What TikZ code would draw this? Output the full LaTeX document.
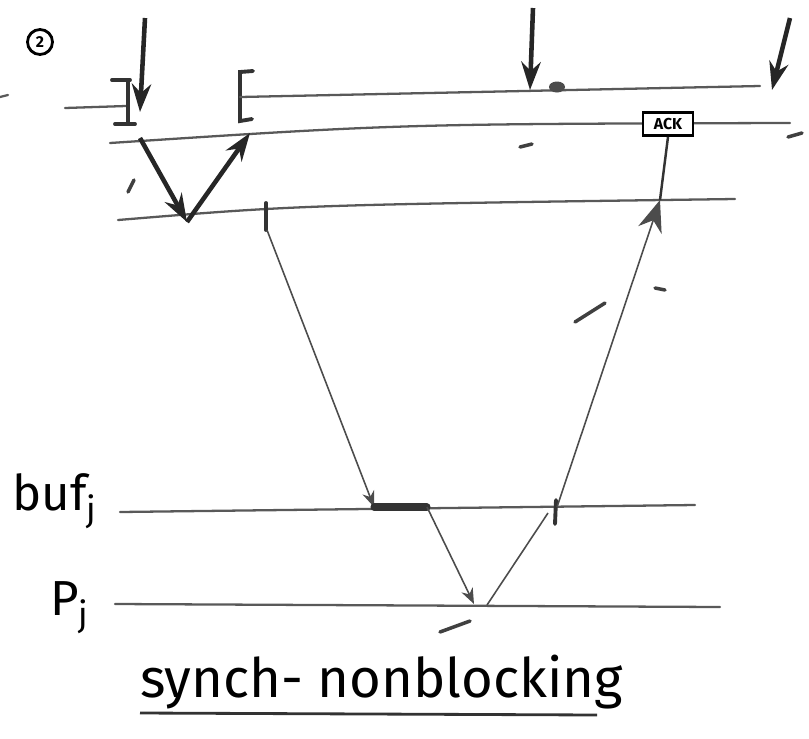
\documentclass[tikz,border=0pt]{standalone}
\usepackage{fontspec}
\setmainfont{Fira Sans}
\usepackage{tikz}
\usetikzlibrary{arrows, arrows.meta, positioning, calc}

\begin{document}
\begin{tikzpicture}[
    x=0.2mm, y=-0.2mm,
    timeline/.style={draw=gray!70!black, line width=1.3pt, line cap=round},
    bigarrow/.style={-{Stealth[length=16pt, width=11pt]}, line width=2.6pt, color=black!85},
    msg/.style={-{Stealth[length=9pt, width=7pt]}, line width=0.9pt, color=black!70},
    ackmsg/.style={-{Stealth[length=18pt, width=14pt]}, line width=0.9pt, color=black!70},
    plain/.style={line width=0.9pt, color=black!70},
    tick/.style={line width=2.2pt, color=black!80, line cap=round},
    smudge/.style={line width=2pt, color=black!75, line cap=round},
    lanelabel/.style={font=\fontsize{28}{30}\selectfont, inner sep=0pt, anchor=base west},
    ackbox/.style={rectangle, draw, line width=1.6pt, minimum width=10mm, minimum height=4.6mm, inner sep=1pt, font=\small\bfseries, fill=white}
]
\useasboundingbox (0,0) rectangle (809,738);

% Case number
\node[circle, draw, line width=1.6pt, inner sep=0pt, minimum size=5mm, font=\small\bfseries] (casenum) at (40,42) {2};

% Top timeline (sender)
\draw[timeline] (0,97) -- (8,95);
\draw[timeline] (65,108) -- (126,106);
\draw[tick] (112,80) -- (130,80) (128,80) -- (128,124) (115,124) -- (135,124);
\draw[tick] (253,71) -- (240,72) -- (240,121) -- (252,119);
\draw[timeline] (240,97) -- (760,86);

% Second and third timelines
\draw[timeline] (110,143) .. controls (400,124) .. (790,123);
\draw[timeline] (118,220) .. controls (300,205) .. (735,199);

% Receive buffer and receiver
\node[lanelabel] (buflabel) at (12,510) {buf\textsubscript{j}};
\node[lanelabel] (plabel) at (50,615) {P\textsubscript{j}};
\draw[timeline] (120,512) -- (695,505);
\draw[timeline] (115,604) -- (720,607);

% Event points
\coordinate (callA) at (145,18);
\coordinate (sendA) at (140,112);
\coordinate (outA) at (140,138);
\coordinate (lowA) at (187,222);
\coordinate (backA) at (250,133);
\coordinate (leave) at (267,230);
\coordinate (arrive) at (374,507);
\coordinate (copyS) at (427,507);
\coordinate (recv) at (474,604);
\coordinate (replyS) at (487,605);
\coordinate (replyB) at (548,513);
\coordinate (ackS) at (557,507);
\coordinate (ackL) at (660,200);
\coordinate (callB) at (533,8);
\coordinate (waitB) at (530,90);
\coordinate (callC) at (790,18);
\coordinate (waitC) at (772,90);

% ACK marker
\node[ackbox] (ack) at (668,124) {ACK};

% Calls coming in from above
\draw[bigarrow] (callA) -- (sendA);
\draw[bigarrow] (callB) -- (waitB);
\draw[bigarrow] (callC) -- (waitC);
\fill[black!70] (557,87) ellipse (1.6mm and 1.1mm);

% Local send and return
\draw[bigarrow] (outA) -- (lowA);
\draw[bigarrow] (lowA) -- (backA);

% Message to buffer, copy to receiver
\draw[tick] (266,203) -- (266,230);
\draw[msg] (leave) -- (arrive);
\draw[line width=4pt, color=black!80, line cap=round] (arrive) -- (copyS);
\draw[msg] (copyS) -- (recv);

% Acknowledgement back
\draw[plain] (replyS) -- (replyB);
\draw[tick] (556,500) -- (555,524);
\draw[ackmsg] (ackS) -- (ackL);
\draw[line width=1.4pt, color=black!80] (ackL) -- (ack.south);

% Stray strokes
\draw[smudge] (575,322) -- (605,303);
\draw[smudge] (440,632) -- (470,621);
\draw[smudge] (520,147) -- (532,144);
\draw[smudge] (655,288) -- (665,290);
\draw[smudge] (788,137) -- (802,133);
\draw[smudge] (128,192) -- (134,180);

% Title
\node[lanelabel, font=\fontsize{31}{33}\selectfont] (title) at (140,697) {synch- nonblocking};
\coordinate (ulS) at (140,713);
\coordinate (ulE) at (597,715);
\draw[line width=1.6pt, color=black!80] (ulS) -- (ulE);

\end{tikzpicture}
\end{document}
